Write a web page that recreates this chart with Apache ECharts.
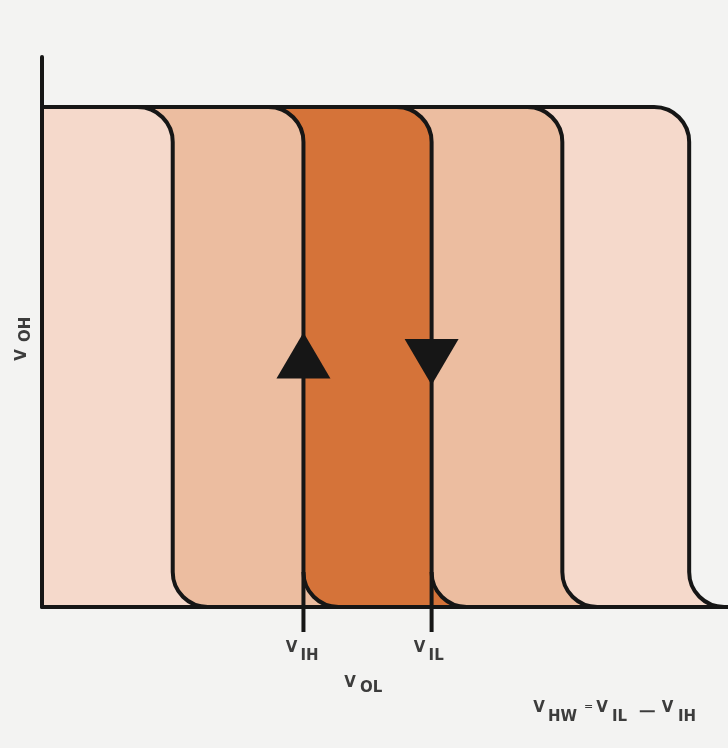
<!DOCTYPE html>
<html><head><meta charset="utf-8">
<script src="https://cdn.jsdelivr.net/npm/echarts@6/dist/echarts.min.js"></script>
<style>html,body{margin:0;padding:0;background:#f3f3f2}#c{width:728px;height:748px}</style>
</head><body><div id="c"></div>
<script>
// ---- data ----
// input thresholds of the five transfer curves (x axis units)
const curveThresholds = [1.01, 2.02, 3.01, 4.02, 5.0];
// fill colour of the band that ends at each curve
const bandColors = ['#f5d9cb', '#ecbda0', '#d57339', '#ecbda0', '#f5d9cb'];
const VOH_LEVEL = 5.0;
const VOL_LEVEL = 0;
const X_MAX = 5.3;
const Y_MAX = 5.5;
// hysteresis markers (V_IH on the rising edge, V_IL on the falling edge)
const markerX = [2.02, 3.01];
const markerY = [2.515, 2.45];
const markerDir = ['up', 'down'];
const markerSub = ['IH', 'IL'];

// ---- style ----
const R = 35;            // corner radius in px
const INK = '#161616';
const TXT = '#3c3c3c';
const FONT = 'DejaVu Sans';

function txt(x, y, s, size, align, weight) {
  return {type: 'text', x: x, y: y, style: {text: s, fontSize: size, fontFamily: FONT,
    fontWeight: weight || 'bold', fill: TXT, align: align || 'center', verticalAlign: 'middle'}};
}

function curvePathData(api, x, closed) {
  const tl = api.coord([0, VOH_LEVEL]);
  const ct = api.coord([x, VOH_LEVEL]);
  const cb = api.coord([x, VOL_LEVEL]);
  const rt = api.coord([X_MAX, VOL_LEVEL]);
  const k = 0.5523 * R;
  let d = 'M' + tl[0] + ' ' + tl[1] +
    ' L' + (ct[0] - R) + ' ' + ct[1] +
    ' C' + (ct[0] - R + k) + ' ' + ct[1] + ' ' + ct[0] + ' ' + (ct[1] + R - k) + ' ' + ct[0] + ' ' + (ct[1] + R) +
    ' L' + cb[0] + ' ' + (cb[1] - R) +
    ' C' + cb[0] + ' ' + (cb[1] - R + k) + ' ' + (cb[0] + R - k) + ' ' + cb[1] + ' ' + (cb[0] + R) + ' ' + cb[1] +
    ' L' + rt[0] + ' ' + rt[1];
  if (closed) d += ' L' + tl[0] + ' ' + rt[1] + ' Z';
  return d;
}

const chart = echarts.init(document.getElementById('c'), null, {renderer: 'canvas'});

const fillData = curveThresholds.map((x, i) => [x, i]).reverse();

const option = {
  backgroundColor: '#f3f3f2',
  animation: false,
  grid: {left: 42, right: 0, top: 57, bottom: 141, containLabel: false, outerBoundsMode: 'none'},
  xAxis: {type: 'value', min: 0, max: X_MAX, z: 5,
    axisLine: {show: true, onZero: false, lineStyle: {color: INK, width: 4}},
    axisTick: {show: false}, axisLabel: {show: false}, splitLine: {show: false}},
  yAxis: {type: 'value', min: 0, max: Y_MAX, z: 5,
    axisLine: {show: true, lineStyle: {color: INK, width: 4}},
    axisTick: {show: false}, axisLabel: {show: false}, splitLine: {show: false}},
  series: [
    {type: 'custom', z: 1, silent: true, clip: false, data: fillData,
      renderItem: function (params, api) {
        return {type: 'path', shape: {pathData: curvePathData(api, api.value(0), true)},
          style: {fill: bandColors[api.value(1)]}};
      }},
    {type: 'custom', z: 3, silent: true, clip: false, data: curveThresholds.map(x => [x, 0]),
      renderItem: function (params, api) {
        return {type: 'path', shape: {pathData: curvePathData(api, api.value(0), false)},
          style: {fill: 'none', stroke: INK, lineWidth: 4, lineJoin: 'round'}};
      }},
    {type: 'custom', z: 4, silent: true, clip: false, data: markerX.map((x, i) => [x, markerY[i], i]),
      renderItem: function (params, api) {
        const x = api.value(0), y = api.value(1), i = api.value(2);
        const b = api.coord([x, VOL_LEVEL]);
        const c = api.coord([x, y]);
        const w = 54, h = 46;
        const pts = markerDir[i] === 'up'
          ? [[c[0], c[1] - h / 2], [c[0] + w / 2, c[1] + h / 2], [c[0] - w / 2, c[1] + h / 2]]
          : [[c[0] - w / 2, c[1] - h / 2], [c[0] + w / 2, c[1] - h / 2], [c[0], c[1] + h / 2]];
        return {type: 'group', children: [
          {type: 'line', shape: {x1: b[0], y1: b[1] - R, x2: b[0], y2: b[1] + 25}, style: {stroke: INK, lineWidth: 4}},
          {type: 'polygon', shape: {points: pts}, style: {fill: INK}},
          txt(b[0] - 12, b[1] + 41, 'V', 15),
          txt(b[0] - 3, b[1] + 49, markerSub[i], 15, 'left')
        ]};
      }}
  ],
  graphic: [
    // x axis title V_OL
    txt(350, 683, 'V', 15),
    txt(360, 688.5, 'OL', 15, 'left'),
    // y axis title V_OH (rotated)
    {type: 'group', x: 22, y: 355, rotation: Math.PI / 2, children: [
      txt(0, 0, 'V', 15),
      txt(13, 4.5, 'OH', 15, 'left')
    ]},
    // formula
    txt(539, 708, 'V', 15),
    txt(548, 717.5, 'HW', 15, 'left'),
    txt(588.5, 707, '=', 11, 'center', 'normal'),
    txt(602, 708, 'V', 15),
    txt(612, 717.5, 'IL', 15, 'left'),
    txt(647, 713, '\u2212', 24, 'center', 'normal'),
    txt(667.5, 708, 'V', 15),
    txt(678, 717.5, 'IH', 15, 'left')
  ]
};
chart.setOption(option);
</script>
</body></html>
